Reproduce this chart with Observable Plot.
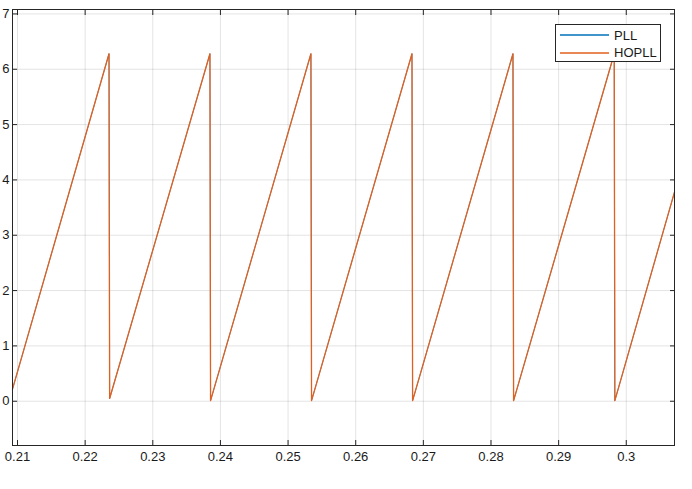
<!DOCTYPE html>
<html>
<head>
<meta charset="utf-8">
<script src="https://cdn.jsdelivr.net/npm/d3@7"></script>
<script src="https://cdn.jsdelivr.net/npm/@observablehq/plot@0.6"></script>
<style>
  html, body { margin: 0; padding: 0; background: #fff; }
  #wrap { position: relative; width: 692px; height: 489px; font-family: "Liberation Sans", Arial, sans-serif; }
  #legend { position: absolute; left: 555px; top: 24px; width: 106px; height: 38px; border: 1px solid #262626; background: #fff; box-sizing: border-box; font-size: 13px; color: #1a1a1a; }
  .row { position: absolute; left: 0; height: 18px; display: flex; align-items: center; }
  .row svg { margin-left: 4px; margin-right: 5px; }
</style>
</head>
<body>
<div id="wrap"><div id="legend"></div></div>
<script>
// Breakpoints of the phase sawtooth (time in s, phase in rad)
const time = [0.20926, 0.22353, 0.22362, 0.23845, 0.23854, 0.25338, 0.25347, 0.26832, 0.26841, 0.28325, 0.28334, 0.29822, 0.29831, 0.30713];
const pllPhase = [0.22, 6.28, 0.05, 6.28, 0.01, 6.28, 0.01, 6.28, 0.01, 6.28, 0.01, 6.28, 0.01, 3.78];
const hopllPhase = [0.22, 6.28, 0.05, 6.28, 0.01, 6.28, 0.01, 6.28, 0.01, 6.28, 0.01, 6.28, 0.01, 3.78];

const seriesNames = ["PLL", "HOPLL"];
const seriesColors = ["#0072BD", "#E0601F"];

const xTicks = [0.21, 0.22, 0.23, 0.24, 0.25, 0.26, 0.27, 0.28, 0.29, 0.30];
const xTickLabels = ["0.21", "0.22", "0.23", "0.24", "0.25", "0.26", "0.27", "0.28", "0.29", "0.3"];
const yTicks = [0, 1, 2, 3, 4, 5, 6, 7];
const xDomain = [0.20926, 0.30713];
const yDomain = [-0.8, 7.08];

const pll = time.map((t, i) => ({t, v: pllPhase[i]}));
const hopll = time.map((t, i) => ({t, v: hopllPhase[i]}));

const axisColor = "#262626";
const chart = Plot.plot({
  width: 692,
  height: 489,
  marginLeft: 12,
  marginRight: 18,
  marginTop: 9,
  marginBottom: 44,
  style: {fontFamily: "'Liberation Sans', Arial, sans-serif", fontSize: "13px", color: "#1a1a1a", background: "#fff", overflow: "visible"},
  x: {domain: xDomain},
  y: {domain: yDomain},
  marks: [
    Plot.gridX(xTicks, {stroke: "#000", strokeOpacity: 0.11}),
    Plot.gridY(yTicks, {stroke: "#000", strokeOpacity: 0.11}),
    Plot.line(pll, {x: "t", y: "v", stroke: seriesColors[0], strokeWidth: 0.7}),
    Plot.line(hopll, {x: "t", y: "v", stroke: seriesColors[1], strokeWidth: 1.3}),
    Plot.axisX(xTicks, {anchor: "bottom", tickSize: -5, tickPadding: 11, fontSize: 13, tickFormat: (d, i) => xTickLabels[i], label: null, stroke: axisColor, fill: "#1a1a1a"}),
    Plot.axisX(xTicks, {anchor: "top", tickSize: -5, tickFormat: () => "", label: null, stroke: axisColor}),
    Plot.axisY(yTicks, {anchor: "left", tickSize: -5, tickPadding: 8, fontSize: 13, tickFormat: d => String(d), label: null, stroke: axisColor, fill: "#1a1a1a"}),
    Plot.axisY(yTicks, {anchor: "right", tickSize: -5, tickFormat: () => "", label: null, stroke: axisColor}),
    Plot.frame({stroke: axisColor, strokeWidth: 1})
  ]
});
document.getElementById("wrap").prepend(chart);

const legend = document.getElementById("legend");
seriesNames.forEach((name, i) => {
  const row = document.createElement("div");
  row.className = "row";
  row.style.top = (1 + i * 17.5) + "px";
  row.innerHTML = `<svg width="49" height="4"><line x1="0" y1="2" x2="49" y2="2" stroke="${seriesColors[i]}" stroke-width="1.3"/></svg><span>${name}</span>`;
  legend.appendChild(row);
});
</script>
</body>
</html>
